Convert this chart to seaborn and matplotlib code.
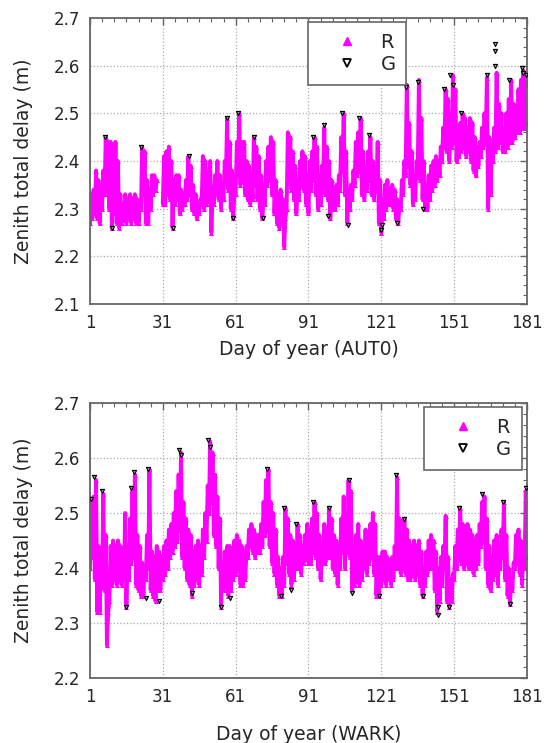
import matplotlib
matplotlib.use("Agg")
import matplotlib.pyplot as plt
from matplotlib.lines import Line2D
from matplotlib.ticker import FixedLocator, FormatStrFormatter
import numpy as np
import pandas as pd
import seaborn as sns

nan = float("nan")

# daily upper / lower envelope of the R solution, days 1..181
aut0_hi = [
    2.33, 2.34, 2.38, 2.36, 2.33, 2.38, 2.45, 2.44, 2.44, 2.34,
    2.44, 2.40, 2.33, 2.31, 2.33, 2.32, 2.33, 2.32, 2.33, 2.32,
    2.31, 2.43, 2.42, 2.36, 2.34, 2.37, 2.37, 2.36, nan, nan,
    2.41, 2.42, 2.43, 2.40, 2.36, 2.37, 2.37, 2.34, 2.33, 2.36,
    2.41, 2.39, 2.35, 2.33, 2.31, 2.32, 2.41, 2.40, 2.38, 2.40,
    2.33, 2.37, 2.40, 2.37, 2.35, 2.40, 2.49, 2.44, 2.38, 2.33,
    2.44, 2.50, 2.44, 2.44, 2.40, 2.39, 2.36, 2.45, 2.43, 2.41,
    2.37, 2.33, 2.40, 2.43, 2.45, 2.44, 2.36, 2.33, 2.34, 2.32,
    2.28, 2.46, 2.45, 2.42, 2.39, 2.34, 2.40, 2.42, 2.41, 2.37,
    2.40, 2.42, 2.45, 2.43, 2.37, 2.39, 2.47, 2.43, 2.40, 2.36,
    2.34, 2.35, 2.37, 2.45, 2.50, 2.42, 2.34, 2.35, 2.38, 2.44,
    2.46, 2.49, 2.42, 2.38, 2.42, 2.45, 2.40, 2.38, 2.44, 2.36,
    2.30, 2.35, 2.36, 2.34, 2.35, 2.34, 2.32, 2.31, 2.36, 2.40,
    2.56, 2.48, 2.42, 2.36, 2.40, 2.57, 2.49, 2.40, 2.35, 2.37,
    2.39, 2.40, 2.41, 2.40, 2.43, 2.47, 2.55, 2.53, 2.49, 2.58,
    2.55, 2.46, 2.48, 2.50, 2.49, 2.47, 2.49, 2.48, 2.45, 2.43,
    2.44, 2.47, 2.50, 2.575, 2.45, 2.43, 2.47, 2.585, 2.52, 2.50,
    2.46, 2.50, 2.53, 2.57, 2.52, 2.50, 2.55, 2.57, 2.59, 2.57,
    2.56,
]
aut0_lo = [
    2.27, 2.28, 2.29, 2.28, 2.27, 2.30, 2.33, 2.34, 2.30, 2.26,
    2.29, 2.27, 2.26, 2.27, 2.28, 2.27, 2.28, 2.27, 2.28, 2.27,
    2.27, 2.30, 2.33, 2.27, 2.27, 2.30, 2.33, 2.34, nan, nan,
    2.31, 2.31, 2.33, 2.32, 2.26, 2.31, 2.32, 2.29, 2.30, 2.31,
    2.32, 2.33, 2.30, 2.29, 2.28, 2.29, 2.31, 2.30, 2.31, 2.32,
    2.25, 2.31, 2.33, 2.32, 2.30, 2.32, 2.37, 2.34, 2.30, 2.28,
    2.33, 2.37, 2.35, 2.36, 2.33, 2.32, 2.31, 2.32, 2.35, 2.32,
    2.30, 2.28, 2.31, 2.35, 2.36, 2.33, 2.29, 2.27, 2.26, 2.27,
    2.22, 2.30, 2.36, 2.34, 2.32, 2.29, 2.32, 2.35, 2.34, 2.31,
    2.29, 2.34, 2.36, 2.33, 2.30, 2.31, 2.36, 2.33, 2.32, 2.28,
    2.30, 2.30, 2.31, 2.34, 2.38, 2.33, 2.27, 2.30, 2.32, 2.35,
    2.37, 2.38, 2.33, 2.32, 2.34, 2.36, 2.33, 2.32, 2.34, 2.27,
    2.25, 2.28, 2.30, 2.31, 2.31, 2.30, 2.28, 2.27, 2.30, 2.33,
    2.37, 2.39, 2.35, 2.31, 2.32, 2.38, 2.36, 2.32, 2.30, 2.30,
    2.32, 2.34, 2.35, 2.36, 2.37, 2.40, 2.43, 2.42, 2.40, 2.43,
    2.44, 2.40, 2.41, 2.42, 2.43, 2.41, 2.42, 2.40, 2.38, 2.37,
    2.39, 2.41, 2.43, 2.44, 2.30, 2.33, 2.40, 2.42, 2.43, 2.44,
    2.42, 2.42, 2.43, 2.44, 2.44, 2.45, 2.46, 2.46, 2.47, 2.47,
    2.48,
]
wark_hi = [
    2.52, 2.53, 2.56, 2.44, 2.40, 2.535, 2.46, 2.32, 2.44, 2.45,
    2.44, 2.45, 2.44, 2.43, 2.50, 2.42, 2.49, 2.54, 2.57, 2.46,
    2.44, 2.41, 2.40, 2.46, 2.58, 2.43, 2.42, 2.44, 2.43, 2.42,
    2.44, 2.45, 2.47, 2.48, 2.50, 2.54, 2.57, 2.61, 2.52, 2.49,
    2.47, 2.46, 2.43, 2.44, 2.45, 2.44, 2.47, 2.50, 2.55, 2.63,
    2.61, 2.57, 2.53, 2.49, 2.40, 2.43, 2.44, 2.44, 2.43, 2.45,
    2.46, 2.45, 2.44, 2.43, 2.44, 2.47, 2.48, 2.47, 2.46, 2.46,
    2.48, 2.52, 2.56, 2.58, 2.52, 2.50, 2.47, 2.42, 2.40, 2.42,
    2.51, 2.49, 2.46, 2.45, 2.43, 2.48, 2.46, 2.44, 2.46, 2.48,
    2.47, 2.49, 2.52, 2.50, 2.46, 2.42, 2.48, 2.47, 2.51, 2.49,
    2.46, 2.45, 2.42, 2.49, 2.53, 2.48, 2.56, 2.54, 2.44, 2.46,
    2.48, 2.45, 2.44, 2.47, 2.46, 2.48, 2.50, 2.48, 2.42, 2.42,
    2.43, 2.43, 2.42, 2.41, 2.42, 2.44, 2.565, 2.49, 2.46, 2.49,
    2.47, 2.45, 2.44, 2.45, 2.44, 2.45, 2.43, 2.40, 2.43, 2.45,
    2.46, 2.45, 2.43, 2.40, 2.42, 2.44, 2.495, 2.42, 2.38, 2.39,
    2.44, 2.47, 2.51, 2.48, 2.47, 2.48, 2.47, 2.46, 2.45, 2.46,
    2.48, 2.52, 2.53, 2.49, 2.44, 2.42, 2.45, 2.46, 2.44, 2.47,
    2.52, 2.46, 2.40, 2.38, 2.41, 2.46, 2.47, 2.45, 2.43, 2.54,
    2.55,
]
wark_lo = [
    2.40, 2.42, 2.38, 2.32, 2.32, 2.38, 2.36, 2.26, 2.34, 2.37,
    2.38, 2.37, 2.38, 2.37, 2.39, 2.33, 2.38, 2.41, 2.42, 2.37,
    2.36, 2.35, 2.35, 2.38, 2.40, 2.36, 2.35, 2.34, 2.36, 2.36,
    2.38, 2.39, 2.40, 2.42, 2.43, 2.44, 2.45, 2.47, 2.42, 2.40,
    2.38, 2.37, 2.35, 2.37, 2.38, 2.37, 2.39, 2.42, 2.45, 2.50,
    2.52, 2.46, 2.44, 2.40, 2.33, 2.36, 2.37, 2.35, 2.36, 2.38,
    2.39, 2.40, 2.37, 2.37, 2.38, 2.42, 2.44, 2.43, 2.42, 2.43,
    2.43, 2.44, 2.46, 2.47, 2.44, 2.41, 2.39, 2.37, 2.35, 2.35,
    2.37, 2.41, 2.39, 2.37, 2.38, 2.40, 2.40, 2.39, 2.41, 2.42,
    2.41, 2.41, 2.43, 2.42, 2.40, 2.38, 2.41, 2.41, 2.42, 2.42,
    2.40, 2.39, 2.37, 2.40, 2.43, 2.40, 2.43, 2.42, 2.36, 2.37,
    2.38, 2.37, 2.38, 2.40, 2.39, 2.41, 2.42, 2.39, 2.35, 2.35,
    2.37, 2.38, 2.37, 2.38, 2.37, 2.38, 2.40, 2.40, 2.39, 2.40,
    2.39, 2.38, 2.38, 2.39, 2.38, 2.39, 2.37, 2.35, 2.37, 2.39,
    2.40, 2.40, 2.36, 2.32, 2.34, 2.37, 2.40, 2.34, 2.33, 2.34,
    2.38, 2.40, 2.42, 2.41, 2.40, 2.41, 2.40, 2.40, 2.39, 2.40,
    2.41, 2.44, 2.45, 2.40, 2.37, 2.36, 2.38, 2.39, 2.37, 2.40,
    2.42, 2.38, 2.35, 2.335, 2.36, 2.40, 2.41, 2.39, 2.37, 2.40,
    2.42,
]

# G points that stick out of the R band
aut0_g_day = [7, 10, 22, 35.2, 41.7, 57.4, 59.8, 62, 68.5, 72.2, 92.8, 97.2, 99, 105,
              107.4, 112, 116, 120.7, 121.2, 127.5, 131, 136, 138, 147, 149.5, 150.5,
              154, 164.5, 167.8, 167.8, 167.8, 173.5, 179, 179.5, 180.5]
aut0_g_val = [2.45, 2.26, 2.43, 2.26, 2.41, 2.49, 2.28, 2.50, 2.45, 2.28, 2.45, 2.475, 2.285, 2.50,
              2.265, 2.49, 2.455, 2.255, 2.265, 2.27, 2.555, 2.565, 2.30, 2.55, 2.58, 2.56,
              2.50, 2.58, 2.645, 2.63, 2.60, 2.57, 2.595, 2.585, 2.58]
wark_g_day = [1.5, 2.8, 6, 16, 18, 19.2, 24, 25, 29.5, 37.8, 38.3, 43, 49.8, 50.5, 55, 58.5,
              73.8, 79.5, 81, 84, 86, 93, 99.6, 107.5, 109, 120, 127, 130.2, 138.3, 144.5,
              144.5, 149, 153, 162.5, 171, 174, 180.5]
wark_g_val = [2.525, 2.565, 2.54, 2.33, 2.545, 2.575, 2.345, 2.58, 2.34, 2.615, 2.605, 2.355, 2.632,
              2.62, 2.33, 2.345, 2.58, 2.35, 2.51, 2.36, 2.48, 2.52, 2.51, 2.56, 2.355, 2.35,
              2.57, 2.49, 2.35, 2.315, 2.33, 2.33, 2.51, 2.535, 2.52, 2.335, 2.545]

day_ticks = [1, 31, 61, 91, 121, 151, 181]
MAGENTA = "#FF00FF"
AXIS_GREY = "#666666"


def band_frame(hi, lo):
    rows = []
    for i, (h, l) in enumerate(zip(hi, lo)):
        day = 1 + i
        rows.append({"day": day, "ztd": l})
        rows.append({"day": day + 0.5, "ztd": h})
    df = pd.DataFrame(rows)
    df["seg"] = df["ztd"].isna().cumsum()
    return df.dropna()


def draw_panel(ax, hi, lo, g_day, g_val, ylim, xlabel, labelpad, legend_anchor, legend_loc):
    band = band_frame(hi, lo)
    sns.lineplot(data=band, x="day", y="ztd", units="seg", estimator=None, color=MAGENTA,
                 lw=2.8, marker="^", markersize=3.6, markeredgewidth=0, ax=ax, zorder=2)
    sns.scatterplot(x=g_day, y=g_val, marker="v", s=9, color="#9a9a9a", edgecolor="black",
                    linewidth=0.8, ax=ax, zorder=3)

    ax.set_xlim(1, 181)
    ax.set_ylim(*ylim)
    ax.xaxis.set_major_locator(FixedLocator(day_ticks))
    ax.xaxis.set_minor_locator(FixedLocator(np.arange(1, 182, 5)))
    ax.yaxis.set_major_locator(FixedLocator(np.arange(ylim[0], ylim[1] + 0.001, 0.1)))
    ax.yaxis.set_minor_locator(FixedLocator(np.arange(ylim[0], ylim[1] + 0.001, 0.02)))
    ax.yaxis.set_major_formatter(FormatStrFormatter("%.1f"))
    ax.grid(True, which="major", color="#aaaaaa", linestyle=":", linewidth=0.9)
    ax.tick_params(which="both", direction="in", top=True, right=True, color=AXIS_GREY,
                   labelsize=12, pad=7)
    ax.tick_params(which="major", length=5, width=1)
    ax.tick_params(which="minor", length=3, width=0.8)
    for sp in ax.spines.values():
        sp.set_color(AXIS_GREY)
        sp.set_linewidth(1.3)
    ax.set_xlabel(xlabel, fontsize=13.5, labelpad=labelpad)
    ax.set_ylabel("Zenith total delay (m)", fontsize=13.5, labelpad=15)

    handles = [
        Line2D([], [], ls="none", marker="^", color=MAGENTA, markersize=6, mec=MAGENTA),
        Line2D([], [], ls="none", marker="v", mfc="white", mec="black", mew=1.3, markersize=6),
    ]
    leg = ax.legend(handles, ["R", "G"], loc=legend_loc, bbox_to_anchor=legend_anchor,
                    frameon=True, fancybox=False, fontsize=14, handlelength=2.9,
                    handletextpad=0.25, borderpad=0.55, labelspacing=0.15, borderaxespad=0)
    leg.get_frame().set_edgecolor(AXIS_GREY)
    leg.get_frame().set_linewidth(1.2)
    leg.get_frame().set_alpha(1)


sns.set_theme(style="white")
plt.rcParams["font.family"] = ["DejaVu Sans"]

fig = plt.figure(figsize=(5.44, 7.43), dpi=100)
ax_top = fig.add_axes([0.1654, 0.5908, 0.8033, 0.385])
ax_bot = fig.add_axes([0.1654, 0.0875, 0.8033, 0.370])

draw_panel(ax_top, aut0_hi, aut0_lo, aut0_g_day, aut0_g_val, (2.1, 2.7), "Day of year (AUT0)",
           6, (0.50, 0.985), "upper left")
draw_panel(ax_bot, wark_hi, wark_lo, wark_g_day, wark_g_val, (2.2, 2.7), "Day of year (WARK)",
           14, (0.988, 0.985), "upper right")

fig.savefig("out.png", dpi=100)
plt.close(fig)
